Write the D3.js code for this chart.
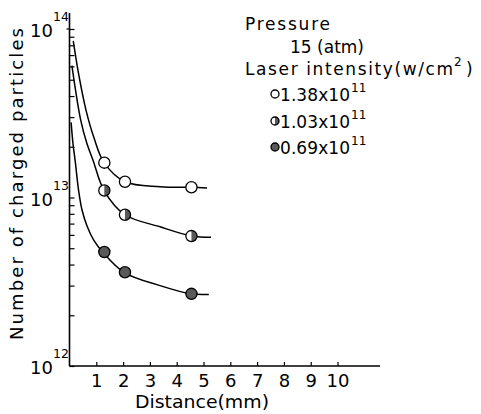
<!DOCTYPE html>
<html><head><meta charset="utf-8">
<script src="https://cdn.jsdelivr.net/npm/d3@7"></script>
<style>html,body{margin:0;padding:0;background:#fff}svg{display:block}</style>
</head><body>
<script>
// ---- data ----
const distances = [1.3, 2.07, 4.55];
const high = [1.61e13, 1.24e13, 1.15e13];   // 1.38x10^11 W/cm2 (open)
const mid  = [1.10e13, 7.9e12, 5.9e12];     // 1.03x10^11 (half filled)
const low  = [4.75e12, 3.6e12, 2.68e12];    // 0.69x10^11 (filled)

const highCurveX = [0.14, 0.35, 0.62, 0.91, 1.29, 2.07, 3.38, 4.53, 5.13];
const highCurveY = [8.5e13, 5.3e13, 3.28e13, 2.27e13, 1.61e13, 1.24e13, 1.16e13, 1.15e13, 1.14e13];
const midCurveX  = [0.09, 0.42, 0.65, 0.88, 1.29, 2.07, 3.38, 4.57, 5.28];
const midCurveY  = [6.07e13, 2.87e13, 2.09e13, 1.66e13, 1.10e13, 7.9e12, 6.7e12, 5.9e12, 5.8e12];
const lowCurveX  = [0.06, 0.13, 0.21, 0.34, 0.47, 0.65, 0.91, 1.25, 2.03, 3.38, 4.53, 5.2];
const lowCurveY  = [2.79e13, 2.09e13, 1.66e13, 1.10e13, 8.4e12, 6.8e12, 5.56e12, 4.72e12, 3.6e12, 3.0e12, 2.68e12, 2.66e12];

const xTicks = [1,2,3,4,5,6,7,8,9,10];
const yMajor = [1e12, 1e13, 1e14];
const yMajorExp = ["12", "13", "14"];
const yMinor = [2,3,4,5,6,7,8,9].flatMap(m => [m*1e12, m*1e13]);
const legendLabels = ["1.38x10", "1.03x10", "0.69x10"];
const legendExp = ["11", "11", "11"];
const legendKinds = ["open", "half", "filled"];

// ---- drawing ----
const W = 481, H = 414;
const FONT = "'DejaVu Sans', sans-serif";
const svg = d3.select("body").append("svg").attr("width", W).attr("height", H)
  .style("font-family", FONT);

const x = d3.scaleLinear().domain([0, 11.585]).range([69.5, 380]);
const y = d3.scaleLog().domain([1e12, 1e14]).range([366, 29]);
const GRAY = "#595959";

// axes lines
svg.append("line").attr("x1", x(0)).attr("x2", x(0)).attr("y1", 13).attr("y2", y(1e12))
  .attr("stroke", "#000").attr("stroke-width", 1.6);
svg.append("line").attr("x1", x(0)).attr("x2", 380).attr("y1", y(1e12)).attr("y2", y(1e12))
  .attr("stroke", "#000").attr("stroke-width", 1.6);

// y ticks (inside)
const yAxis = svg.append("g").attr("transform", `translate(${x(0)},0)`)
  .call(d3.axisLeft(y).tickValues(yMinor.concat(yMajor)).tickSize(-5).tickFormat(""));
yAxis.select(".domain").remove();
yAxis.selectAll("line").attr("stroke-width", 1.2);
svg.append("line").attr("x1", x(0) - 3).attr("x2", x(0)).attr("y1", y(1e14)).attr("y2", y(1e14))
  .attr("stroke", "#000").attr("stroke-width", 1.2);

// y labels with superscripts
yMajor.forEach((v, i) => {
  svg.append("text").attr("x", 53).attr("y", y(v) + 8).attr("text-anchor", "end")
    .attr("font-size", 18).text("10");
  svg.append("text").attr("x", 53).attr("y", y(v) - 8).attr("text-anchor", "start")
    .attr("font-size", 12.5).text(yMajorExp[i]);
});

// x ticks (inside)
const xAxis = svg.append("g").attr("transform", `translate(0,${y(1e12)})`)
  .call(d3.axisBottom(x).tickValues(xTicks).tickSize(-4).tickPadding(8).tickFormat(d => d));
xAxis.select(".domain").remove();
xAxis.selectAll("line").attr("stroke-width", 1.2);
xAxis.selectAll("text").attr("font-size", 18).attr("font-family", FONT).attr("fill", "#000");

// axis titles
svg.append("text").attr("x", 202).attr("y", 408).attr("text-anchor", "middle")
  .attr("font-size", 17).attr("textLength", 134).attr("lengthAdjust", "spacingAndGlyphs")
  .text("Distance(mm)");
svg.append("text").attr("transform", "translate(23,184) rotate(-90)").attr("text-anchor", "middle")
  .attr("font-size", 18).attr("textLength", 312).attr("lengthAdjust", "spacing")
  .text("Number of charged particles");

// curves
const line = d3.line().x(d => x(d[0])).y(d => y(d[1])).curve(d3.curveCatmullRom.alpha(0.5));
[[highCurveX, highCurveY], [midCurveX, midCurveY], [lowCurveX, lowCurveY]].forEach(([cx, cy]) => {
  svg.append("path").datum(cx.map((v, i) => [v, cy[i]])).attr("d", line)
    .attr("fill", "none").attr("stroke", "#000").attr("stroke-width", 1.5);
});

// markers
function marker(g, cx, cy, r, kind) {
  g.append("circle").attr("cx", cx).attr("cy", cy).attr("r", r)
    .attr("fill", kind === "filled" ? GRAY : "#fff");
  if (kind === "half") {
    g.append("path")
      .attr("d", `M${cx},${cy - r} A${r},${r} 0 0 1 ${cx},${cy + r} Z`)
      .attr("fill", GRAY);
  }
  g.append("circle").attr("cx", cx).attr("cy", cy).attr("r", r)
    .attr("fill", "none").attr("stroke", "#000").attr("stroke-width", 1.3);
}
const mg = svg.append("g");
[[high, "open"], [mid, "half"], [low, "filled"]].forEach(([vals, kind]) => {
  vals.forEach((v, i) => marker(mg, x(distances[i]), y(v), 5.6, kind));
});

// legend
svg.append("text").attr("x", 245).attr("y", 30).attr("font-size", 17)
  .attr("textLength", 85).attr("lengthAdjust", "spacing").text("Pressure");
svg.append("text").attr("x", 290).attr("y", 53).attr("font-size", 17)
  .attr("textLength", 74).attr("lengthAdjust", "spacing").text("15 (atm)");
svg.append("text").attr("x", 245).attr("y", 75).attr("font-size", 17)
  .attr("textLength", 208).attr("lengthAdjust", "spacing").text("Laser intensity(w/cm");
svg.append("text").attr("x", 454).attr("y", 66).attr("font-size", 12).text("2");
svg.append("text").attr("x", 466).attr("y", 75).attr("font-size", 17).text(")");

const legY = [94, 121, 147];
legendLabels.forEach((lab, i) => {
  marker(svg, 275, legY[i], 4, legendKinds[i]);
  svg.append("text").attr("x", 280).attr("y", legY[i] + 7).attr("font-size", 17)
    .attr("textLength", 70).attr("lengthAdjust", "spacing").text(lab);
  svg.append("text").attr("x", 351).attr("y", legY[i] - 2).attr("font-size", 12).text(legendExp[i]);
});
</script>
</body></html>
